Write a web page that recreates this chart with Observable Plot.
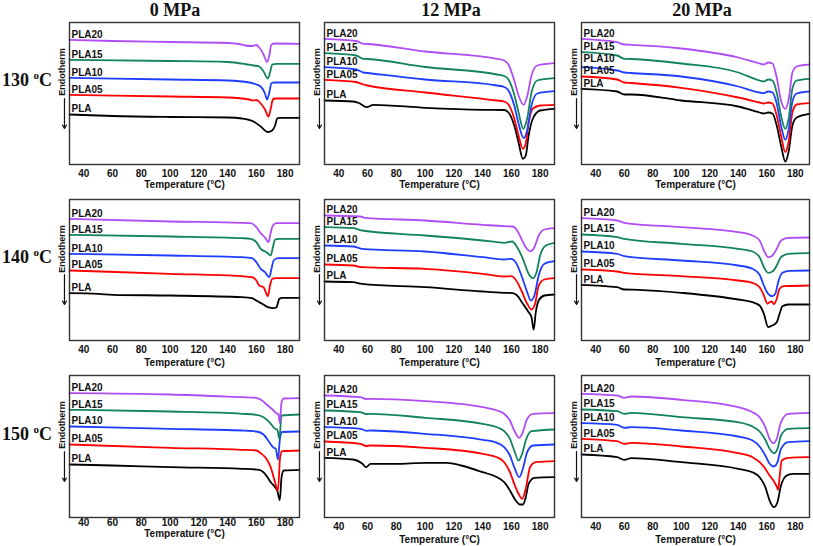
<!DOCTYPE html>
<html><head><meta charset="utf-8">
<script src="https://cdn.jsdelivr.net/npm/d3@7"></script>
<script src="https://cdn.jsdelivr.net/npm/@observablehq/plot@0.6"></script>
<style>
body{margin:0;background:#fff;}
#chart{position:relative;width:813px;height:546px;overflow:hidden;background:#fff;}
.panel{position:absolute;}
.ttl{position:absolute;font-family:"Liberation Serif","Times New Roman",serif;font-weight:bold;color:#111;white-space:nowrap;line-height:1;}
.endo{position:absolute;font-family:"Liberation Sans",Arial,sans-serif;font-weight:bold;font-size:9px;line-height:1;color:#111;white-space:nowrap;transform:translate(-50%,-50%) rotate(-90deg);}
</style></head><body><div id="chart"></div>
<script>
// ---- categories / labels ----
const series = ["PLA", "PLA05", "PLA10", "PLA15", "PLA20"];
const seriesColors = ["#000000", "#ff0000", "#1f3dff", "#12835e", "#b04df5"];
const pressures = ["0 MPa", "12 MPa", "20 MPa"];
const isoTemps = ["130", "140", "150"];
const xTicks = [40, 60, 80, 100, 120, 140, 160, 180];
const xLabel = "Temperature (°C)";
const yLabel = "Endotherm";

// ---- DSC curves: [temperature °C, heat flow (a.u., offset)] ----
const d130_0 = {
  PLA:   [[30,50],[60,48.5],[100,47.5],[140,47],[150,46],[158,43],[163,38],[168,32.5],[171,34],[173,39],[174.5,46],[176,46.7],[190,46.7]],
  PLA05: [[30,69.7],[100,68],[140,67],[155,65],[158,64],[160,64.5],[163,61],[166,55],[168.5,48],[170,56],[171.5,65],[173,66],[190,66]],
  PLA10: [[30,86.7],[100,85],[140,84],[155,82],[160,80],[163,78],[166,71],[167.5,65],[169,72],[170.5,81.5],[173,82],[190,82]],
  PLA15: [[30,104.7],[100,103.5],[140,102.5],[152,100.5],[158,99],[162,98],[165,93],[168,86],[169.5,92],[171,100],[174,100.7],[190,100.7]],
  PLA20: [[30,124.7],[60,123.5],[100,122.5],[140,121.5],[148,120.5],[152,119],[157,118.5],[160,119.5],[162,117],[165,110],[167.5,102.5],[169,109],[170.5,120],[173,121],[190,120.7]]
};
const d130_12 = {
  PLA:   [[30,64],[50,63],[54,61.5],[59.4,57.3],[64,59.7],[100,56.7],[141,54.7],[155,54.5],[158,52],[162,39],[165,22],[168,5.7],[170,9],[172,29],[175,46],[180,54],[190,55.7]],
  PLA05: [[30,84.7],[52,82.5],[57,80],[60,79],[100,72],[150,64],[155,63],[158,60],[162,46],[165,29],[168,15.7],[170,21],[172,42],[175,56],[180,59],[190,59.7]],
  PLA10: [[30,97.3],[52,95],[57,92],[60,91.5],[100,85],[150,79],[155,77.5],[158,74],[162,59],[165,41],[168.5,26.3],[171,34],[174,59],[178,71],[190,73.3]],
  PLA15: [[30,111.3],[52,109],[57,105.7],[60,105.5],[100,97.5],[150,90],[155,88.5],[158,85],[162,70],[165,52],[168.3,35.7],[171,46],[174,72],[178,84],[190,86.3]],
  PLA20: [[30,125.7],[52,123.5],[57,120.7],[60,120.5],[100,113],[150,105.7],[155,104],[158,100],[162,84],[165,69],[168.5,59.7],[171,68],[174,89],[178,99],[190,101.3]]
};
const d130_20 = {
  PLA:   [[30,75.7],[55,73],[60,70],[65,70],[100,64],[140,58],[155,52],[158,51],[161,52],[164,51],[167,39],[170,19],[173,3],[175.5,14],[178,39],[181,47],[190,50.7]],
  PLA05: [[30,88],[55,85],[60,82],[65,81.5],[100,76.7],[140,67],[155,62],[158,61],[161,62],[164,61],[167,49],[170,29],[173,12.3],[175.5,24],[178,52],[181,60],[190,61.3]],
  PLA10: [[30,97.3],[55,94],[60,92],[65,91.5],[100,88],[140,78],[155,72],[158,71.3],[161,73],[164,72],[167,61],[170,39],[173,24.7],[175.5,36],[178,63],[181,71],[190,73]],
  PLA15: [[30,112.3],[55,109],[60,105.7],[65,105.5],[100,101],[140,92],[155,84],[158,83],[161,85],[164,84],[167,72],[170,49],[173,35.7],[175.5,47],[178,76],[181,84],[190,85.7]],
  PLA20: [[30,125.7],[55,122.3],[60,120],[65,119.7],[100,116],[140,107],[155,101],[158,100],[161,102],[164,101],[167,87],[170,64],[173,55.7],[175.5,66],[178,92],[181,98],[190,100]]
};
const d140_0 = {
  PLA:   [[30,47.3],[50,46.7],[60,45.7],[100,45],[150,43.3],[157,42.3],[160,40],[164,36.7],[168,33.3],[172,32.3],[174,33.3],[176,41.7],[178,42.7],[190,42.7]],
  PLA05: [[30,70],[100,66.7],[150,64.3],[157,63.3],[160,60],[162,55],[165,53.3],[168,44.3],[169.5,55],[171,61.7],[174,62.3],[190,62.3]],
  PLA10: [[30,86.7],[100,85],[150,83.3],[157,82.3],[160,78.3],[163,71.7],[166,68.3],[169,63.3],[170.5,71.7],[172,80],[175,82.3],[190,82.3]],
  PLA15: [[30,105.7],[100,104],[150,102.3],[156,101.7],[160,98.3],[163,91.7],[167,88.3],[170,85],[171.5,93.3],[173,101],[176,101.7],[190,101.7]],
  PLA20: [[30,121.7],[100,119],[150,117.7],[156,117.3],[160,113.3],[162.6,108],[166,103],[168.4,98.3],[170,108],[171.5,115],[174,117.3],[190,117.3]]
};
const d140_12 = {
  PLA:   [[30,59],[50,58.3],[56,56.7],[100,53.3],[140,49],[155,47.7],[161,47.3],[164,45],[168,36.7],[172,28.3],[174,23.3],[175.5,11],[177,28.3],[179,40],[183,45],[190,46]],
  PLA05: [[30,76],[50,75],[56,73.3],[100,71.7],[140,66.7],[155,64],[160,64.3],[163,60.7],[167,50],[171,36.7],[174,31],[176.5,36.7],[179,55],[183,61],[190,62.3]],
  PLA10: [[30,95],[50,94],[56,91.7],[100,89],[140,83.3],[155,81],[160,81.7],[163,78.3],[167,65],[171,48.3],[173.5,40],[176,45],[179,65],[183,76.7],[190,79.3]],
  PLA15: [[30,113.3],[50,112.3],[56,110],[100,105],[140,100],[150,98.3],[155,97.7],[160.5,99],[164,93.3],[168,81.7],[172,66.7],[175,62.3],[177.5,68.3],[180,85],[184,95],[190,97.7]],
  PLA20: [[30,125],[55,124],[58,122.7],[100,120],[140,115.7],[155,114.3],[161,114],[164,110],[167,101.7],[170,93.3],[173.5,89.3],[176,93.3],[179,105],[183,111],[190,112.3]]
};
const d140_20 = {
  PLA:   [[30,55.7],[55,53.3],[60,51],[70,50.7],[100,47.7],[140,41],[150,38.3],[155,35],[158,26.7],[161,13.3],[164,15],[167,18.3],[169,26.7],[171,34.3],[175,36],[190,36]],
  PLA05: [[30,71],[55,69],[60,67.7],[100,64.3],[140,60],[150,57.7],[155,53.3],[158,45],[160.5,36.7],[162,38.3],[163.5,39],[165,36.3],[167,41.7],[169,51.7],[172,54.3],[190,55]],
  PLA10: [[30,89],[55,86.7],[60,84.3],[100,80],[140,75],[150,71.7],[155,65.7],[158,55],[161,46.7],[164,44.3],[166,46.7],[168,58.3],[171,67.7],[176,69.7],[190,70]],
  PLA15: [[30,106],[55,103.3],[60,101.7],[100,96.7],[140,91.7],[150,89],[155,83.3],[158,73.3],[161,67.7],[164,69],[167,75],[170,83.3],[175,86.7],[190,87.3]],
  PLA20: [[30,122.3],[55,120],[60,117.7],[100,113.3],[140,108.3],[150,105],[155,100],[158,90],[161,83.3],[164,85],[167,91.7],[170,100],[175,102.7],[190,103]]
};
const d150_0 = {
  PLA:   [[30,53],[60,52],[100,50.3],[150,48.7],[162,47.7],[166,43.7],[170,35.3],[173,30.3],[174.5,27],[176.3,17.5],[177.5,40],[179,47],[190,47.7]],
  PLA05: [[30,73],[100,69.7],[150,67.7],[160,67],[163,64.3],[167,58.7],[170,50.3],[172,40.3],[174,30.3],[175,26.5],[176.5,60],[178,66.3],[190,67]],
  PLA10: [[30,91],[100,88.7],[150,87],[160,86],[165,83],[169,75.3],[172,69.7],[173.5,68.7],[175,58],[176.5,80],[178,85.5],[190,86]],
  PLA15: [[30,107.7],[100,106],[150,103.7],[160,102.7],[165,100.3],[169,95.3],[171,92],[173,88.7],[174.5,88],[176,79],[177.5,102],[190,103]],
  PLA20: [[30,124.3],[100,123],[150,120.3],[160,119.7],[163,117.7],[168,112],[172,107],[174,104.3],[175.3,103.5],[176.3,94.5],[177.5,115],[179,119],[190,119.3]]
};
const d150_12 = {
  PLA:   [[30,59.7],[50,58],[56,54.3],[59,50.3],[62,53.7],[80,53.7],[100,54.7],[115,54.7],[125,52],[140,45.3],[150,40.3],[155,35.3],[159,27],[163,17],[166,13],[168,13],[170,20.3],[172,33.7],[176,39.7],[190,40.3]],
  PLA05: [[30,76],[55,73.7],[59,71.5],[62,72],[100,69.7],[140,63.7],[150,60.3],[155,55.3],[159,45.3],[162,33.7],[165,23.7],[167.5,18.7],[170,28.7],[173,50.3],[177,55.3],[190,56.3]],
  PLA10: [[30,90.3],[55,88.7],[59,86.7],[62,87],[100,83.7],[140,77.7],[150,74.7],[155,70.3],[159,62],[162,50.3],[165.5,40.3],[168,48.7],[171,65.3],[175,72],[190,73]],
  PLA15: [[30,107],[55,105.3],[59,103.5],[62,103.7],[100,99.7],[140,93.7],[150,90.3],[155,86.3],[159,78.7],[162,67],[165,57],[167.5,63.7],[170,77],[174,86.3],[190,88]],
  PLA20: [[30,122],[55,120.3],[59,118.5],[62,118.7],[100,116.3],[140,110.3],[150,107],[155,103.7],[159,97],[162,87],[165.5,79.7],[168,85.3],[171,98.7],[175,103.7],[190,104.3]]
};
const d150_20 = {
  PLA:   [[30,63],[55,60.3],[60,57.7],[65,59.3],[100,55.3],[140,48.7],[150,45.3],[155,40.3],[159,30.3],[162,17],[165,10.3],[167.5,15.3],[170,32],[174,42],[178,43.7],[190,43.7]],
  PLA05: [[30,78.7],[55,76.3],[60,73.7],[65,74.7],[100,71],[140,64.3],[150,60.3],[155,55.3],[159,48.7],[162,42],[165,36.3],[167,31],[168,27.7],[169,40.3],[170.5,57],[175,59.7],[190,60.3]],
  PLA10: [[30,94.3],[55,92.7],[60,89.7],[65,90.3],[100,87],[140,81],[150,77],[155,71],[159,62],[162,53.7],[165,51],[167.5,55.3],[170,68.7],[175,75.3],[190,76.3]],
  PLA15: [[30,108],[55,106.3],[60,103.7],[65,104.7],[100,100.3],[140,95.3],[150,91],[155,86],[159,77.7],[162,68.7],[165,64.3],[167.5,68.7],[170,82],[175,88.7],[190,89.3]],
  PLA20: [[30,123.7],[55,122],[60,119.7],[65,121],[100,117.7],[140,110.3],[150,105.3],[155,100.3],[159,90.3],[162,78.7],[164.5,74.3],[167,78.7],[170,95.3],[175,103.7],[190,104.7]]
};
// endotherm arrow annotation (temperature, from, to) in panel units
const endoArrow = {t: 26.5, from: 66, to: 36};

// ---- layout ----
const grid = [[d130_0, d130_12, d130_20], [d140_0, d140_12, d140_20], [d150_0, d150_12, d150_20]];
const colBox = [[69, 299], [324, 554], [581, 809]];
const rowBox = [[22, 164], [199, 340], [375, 517]];
const tickPad = [[5, 5, 5], [5, 5, 5], [1.5, 5, 5]];
const titleDy = [[20, 20, 20], [22, 22, 22], [16, 22, 22]];
// extra label lift (px) where a name sits higher above its curve
const labelLift = {"0-2": {PLA10: 3}};
const ml = 24, mr = 6, mt = 4, mb = 32;

const chart = document.getElementById("chart");

grid.forEach((row, r) => {
  row.forEach((panel, c) => {
    const [L, R] = colBox[c], [T, B] = rowBox[r];
    const lift = labelLift[r + "-" + c] || {};
    const data = series.flatMap(s => panel[s].map(([t, h]) => ({t, h, s})));
    const starts = series.map(s => ({t: panel[s][0][0], h: panel[s][0][1] + (lift[s] || 0), s}));
    const svg = Plot.plot({
      width: R - L + ml + mr,
      height: B - T + mt + mb,
      marginLeft: ml, marginRight: mr, marginTop: mt, marginBottom: mb,
      x: {domain: [30, 190]},
      y: {domain: [0, B - T], axis: null},
      color: {domain: series, range: seriesColors},
      style: {fontFamily: "'Liberation Sans', Arial, sans-serif", fontWeight: "bold", fontSize: "10px", color: "#111", background: "transparent", overflow: "visible"},
      marks: [
        Plot.line(data, {x: "t", y: "h", z: "s", stroke: "s", strokeWidth: 1.8, curve: "monotone-x"}),
        Plot.text(starts, {x: "t", y: "h", text: "s", textAnchor: "start", lineAnchor: "middle", dx: 2, dy: -5.5, fill: "#111", fontSize: 10}),
        Plot.frame({stroke: "#333", strokeWidth: 1.4}),
        Plot.axisX({ticks: xTicks, tickSize: 0, tickPadding: tickPad[r][c], label: null, fontSize: 10}),
        Plot.text([xLabel], {text: d => d, frameAnchor: "bottom", textAnchor: "middle", lineAnchor: "middle", dy: titleDy[r][c], fontSize: 10}),
        Plot.arrow([endoArrow], {x1: d => d.t, x2: d => d.t, y1: d => d.from, y2: d => d.to, stroke: "#111", strokeWidth: 1.2, headLength: 5})
      ]
    });
    svg.classList.add("panel");
    svg.style.left = (L - ml) + "px";
    svg.style.top = (T - mt) + "px";
    chart.appendChild(svg);

    // rotated "Endotherm" label, centred just above the arrow
    const e = document.createElement("div");
    e.className = "endo";
    e.textContent = yLabel;
    e.style.left = (L - 7) + "px";
    e.style.top = (T + 50) + "px";
    chart.appendChild(e);
  });
});

// column titles
const colCenters = [175, 451, 702];
pressures.forEach((p, i) => {
  const d = document.createElement("div");
  d.className = "ttl";
  d.textContent = p;
  d.style.fontSize = "18px";
  d.style.top = "1px";
  d.style.left = colCenters[i] + "px";
  d.style.transform = "translateX(-50%)";
  chart.appendChild(d);
});
// row titles
const rowCenters = [80, 257, 434];
isoTemps.forEach((t, i) => {
  const d = document.createElement("div");
  d.className = "ttl";
  d.innerHTML = t + ' <span style="font-size:11px;position:relative;top:-7px">o</span>C';
  d.style.fontSize = "18px";
  d.style.top = (rowCenters[i] - 9) + "px";
  d.style.left = "2px";
  chart.appendChild(d);
});
</script>
</body></html>
